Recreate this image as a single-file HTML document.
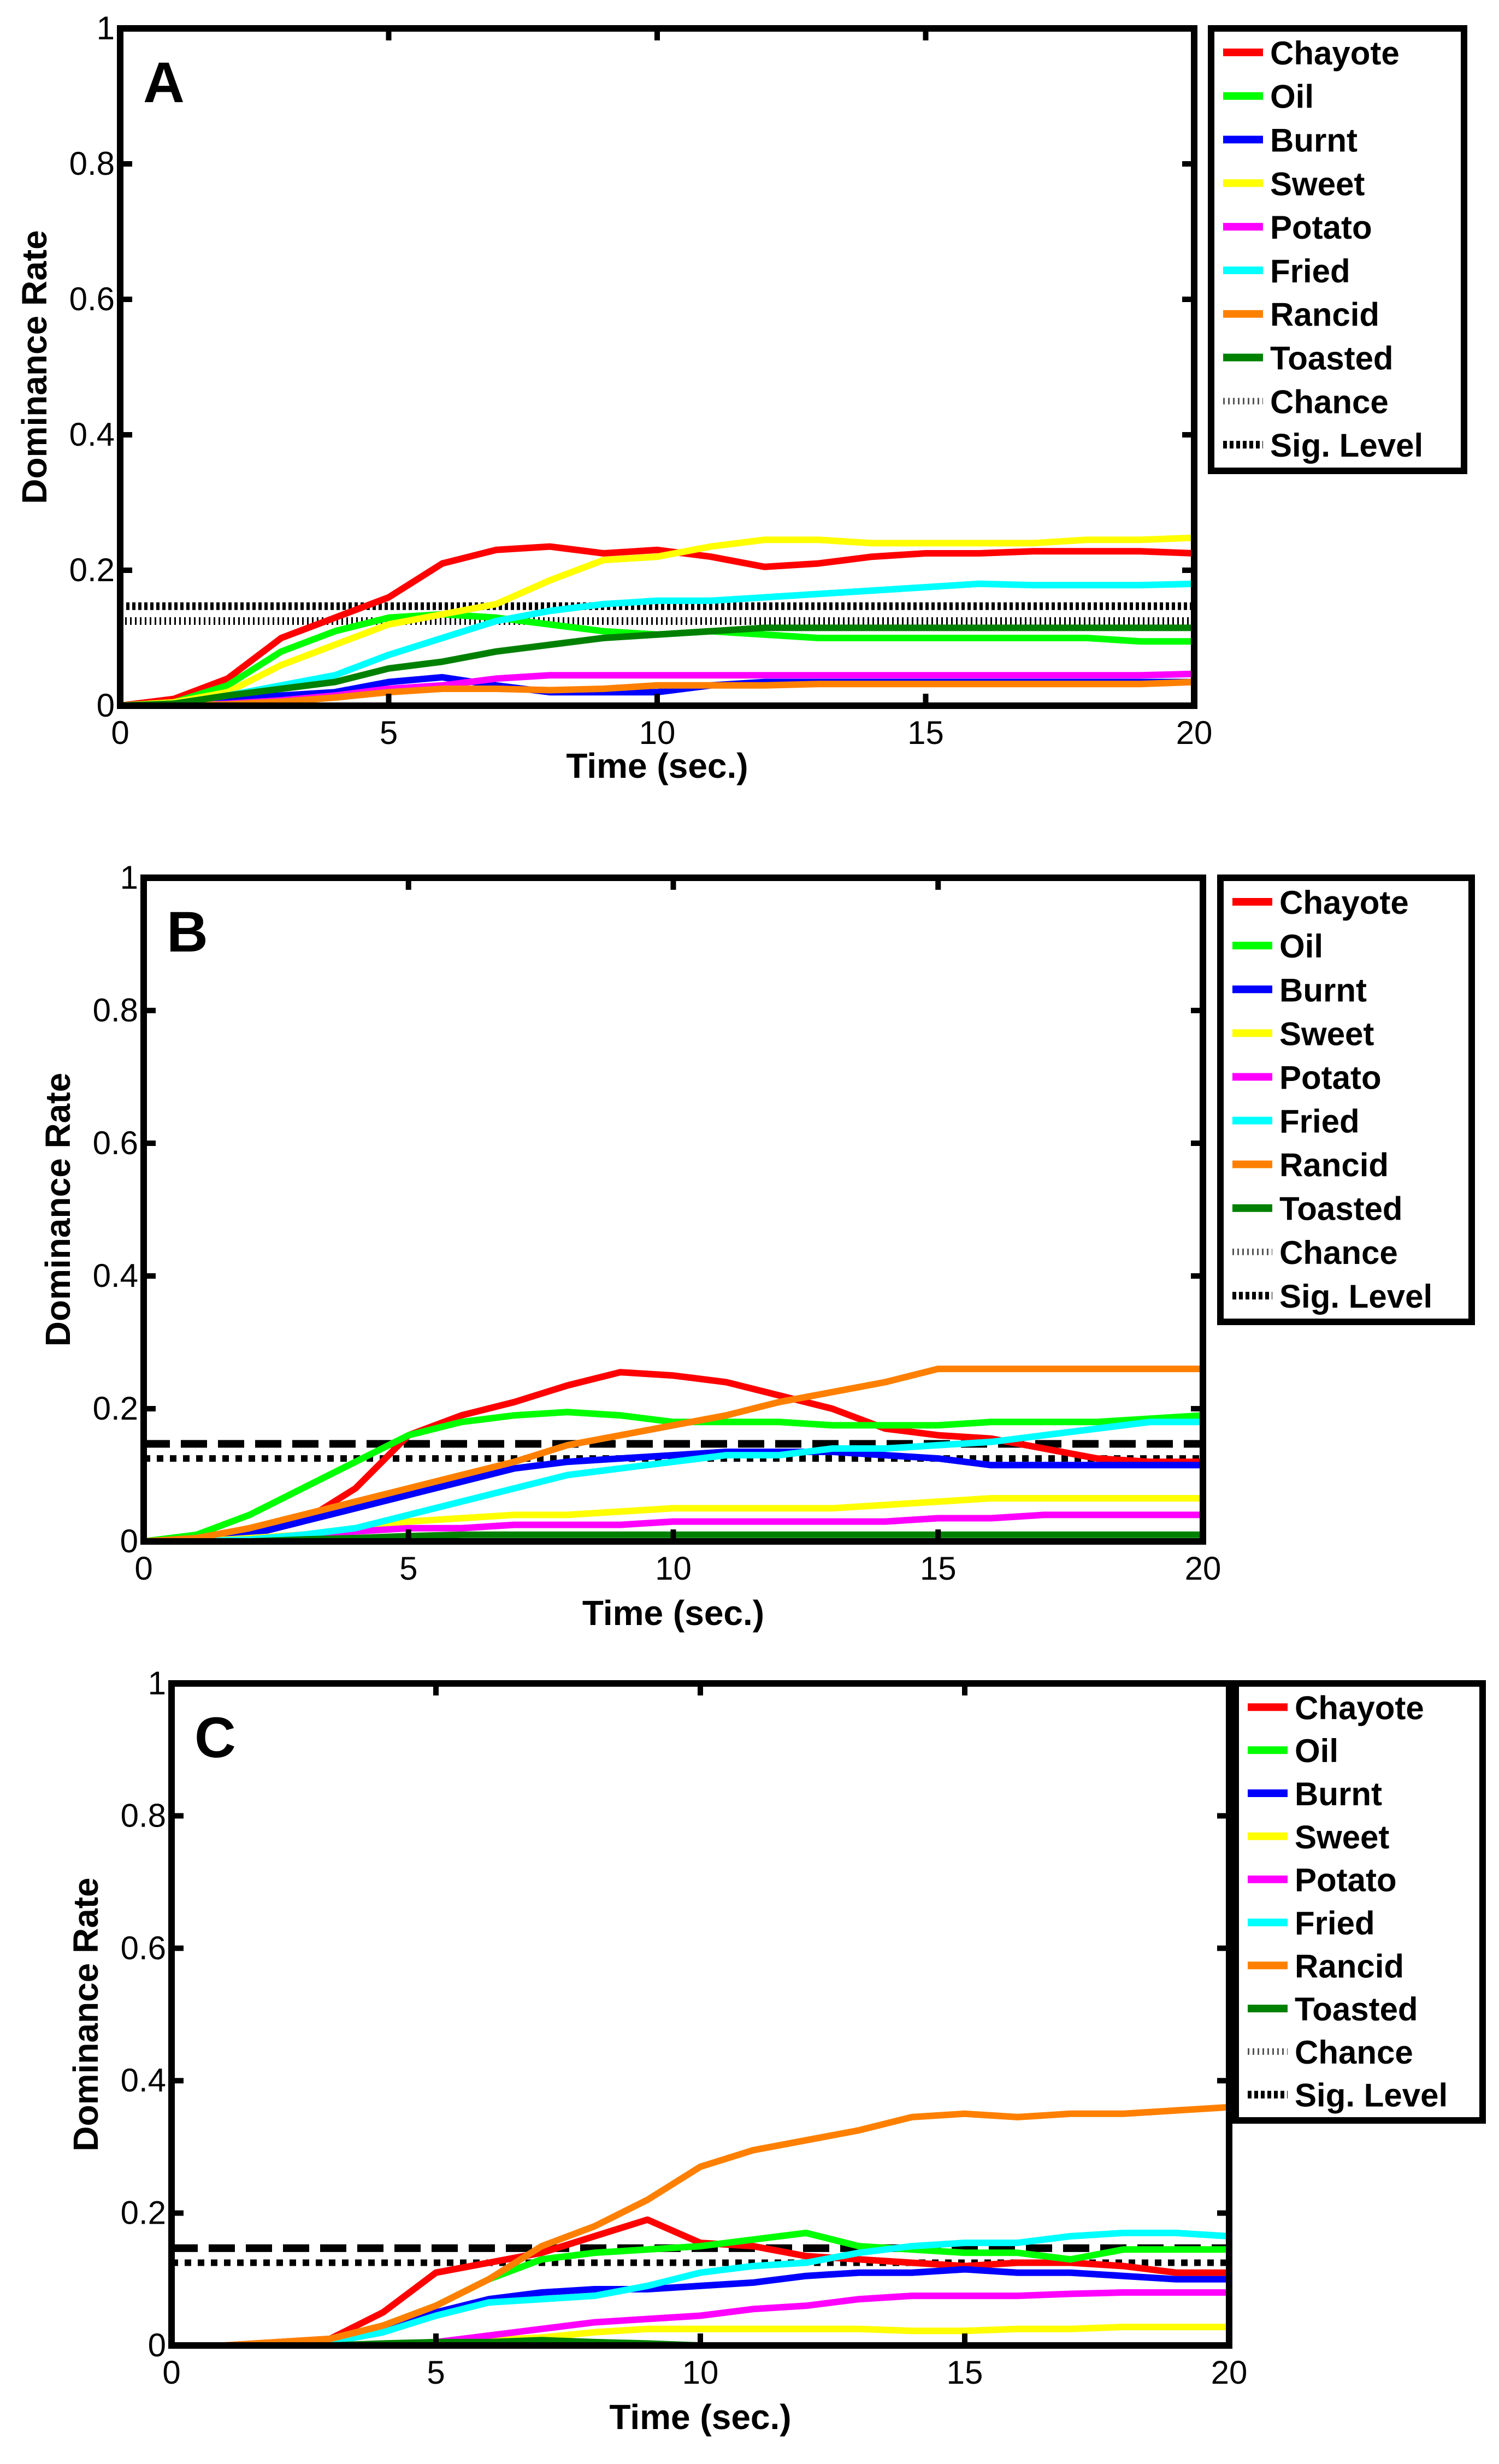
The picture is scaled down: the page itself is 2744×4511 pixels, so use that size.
<!DOCTYPE html>
<html><head><meta charset="utf-8"><style>
html,body{margin:0;padding:0;background:#fff;}
svg{display:block;}
text{font-family:"Liberation Sans",sans-serif;}
</style></head><body>
<svg id="chart" xmlns="http://www.w3.org/2000/svg" width="2744" height="4511" viewBox="0 0 2744 4511"></svg>
<script>
const times = [0,1,2,3,4,5,6,7,8,9,10,11,12,13,14,15,16,17,18,19,20];
const seriesNames = ["Chayote","Oil","Burnt","Sweet","Potato","Fried","Rancid","Toasted"];
const seriesColors = ["#ff0000","#00ff00","#0000ff","#ffff00","#ff00ff","#00ffff","#ff8000","#008000"];
const xTicks = [0,5,10,15,20];
const yTicks = [0,0.2,0.4,0.6,0.8,1];
const yTickLabels = ["0","0.2","0.4","0.6","0.8","1"];
const chanceLevel = 0.125;
const sigLevel = 0.147;

const aChayote = [0,0.01,0.04,0.1,0.13,0.16,0.21,0.23,0.235,0.225,0.23,0.22,0.205,0.21,0.22,0.225,0.225,0.228,0.228,0.228,0.225];
const aOil = [0,0.005,0.03,0.08,0.11,0.13,0.135,0.13,0.12,0.11,0.105,0.11,0.105,0.1,0.1,0.1,0.1,0.1,0.1,0.095,0.095];
const aBurnt = [0,0.003,0.01,0.015,0.02,0.035,0.042,0.03,0.02,0.02,0.02,0.03,0.035,0.035,0.035,0.035,0.035,0.035,0.035,0.035,0.035];
const aSweet = [0,0.005,0.02,0.06,0.09,0.12,0.135,0.15,0.185,0.215,0.22,0.235,0.245,0.245,0.24,0.24,0.24,0.24,0.245,0.245,0.248];
const aPotato = [0,0,0.003,0.008,0.015,0.025,0.03,0.04,0.045,0.045,0.045,0.045,0.045,0.045,0.045,0.045,0.045,0.045,0.045,0.045,0.047];
const aFried = [0,0.003,0.015,0.03,0.045,0.075,0.1,0.125,0.14,0.15,0.155,0.155,0.16,0.165,0.17,0.175,0.18,0.178,0.178,0.178,0.18];
const aRancid = [0,0,0.002,0.006,0.012,0.02,0.025,0.025,0.023,0.025,0.03,0.03,0.03,0.032,0.032,0.032,0.032,0.032,0.032,0.032,0.035];
const aToasted = [0,0.003,0.015,0.025,0.035,0.055,0.065,0.08,0.09,0.1,0.105,0.11,0.115,0.115,0.115,0.115,0.115,0.115,0.115,0.115,0.115];

const bChayote = [0,0,0.01,0.03,0.08,0.16,0.19,0.21,0.235,0.255,0.25,0.24,0.22,0.2,0.17,0.16,0.155,0.14,0.125,0.12,0.12];
const bOil = [0,0.01,0.04,0.08,0.12,0.16,0.18,0.19,0.195,0.19,0.18,0.18,0.18,0.175,0.175,0.175,0.18,0.18,0.18,0.185,0.19];
const bBurnt = [0,0.003,0.01,0.03,0.05,0.07,0.09,0.11,0.12,0.125,0.13,0.135,0.135,0.135,0.13,0.125,0.115,0.115,0.115,0.115,0.115];
const bSweet = [0,0,0.005,0.01,0.02,0.03,0.035,0.04,0.04,0.045,0.05,0.05,0.05,0.05,0.055,0.06,0.065,0.065,0.065,0.065,0.065];
const bPotato = [0,0,0.003,0.01,0.015,0.02,0.02,0.025,0.025,0.025,0.03,0.03,0.03,0.03,0.03,0.035,0.035,0.04,0.04,0.04,0.04];
const bFried = [0,0,0.003,0.01,0.02,0.04,0.06,0.08,0.1,0.11,0.12,0.13,0.13,0.14,0.14,0.145,0.15,0.16,0.17,0.18,0.18];
const bRancid = [0,0.005,0.02,0.04,0.06,0.08,0.1,0.12,0.145,0.16,0.175,0.19,0.21,0.225,0.24,0.26,0.26,0.26,0.26,0.26,0.26];
const bToasted = [0,0,0,0.003,0.005,0.008,0.01,0.01,0.01,0.01,0.01,0.01,0.01,0.01,0.01,0.01,0.01,0.01,0.01,0.01,0.01];

const cChayote = [0,0,0.005,0.01,0.05,0.11,0.125,0.14,0.165,0.19,0.155,0.15,0.135,0.13,0.125,0.12,0.125,0.125,0.12,0.11,0.11];
const cOil = [0,0,0.003,0.01,0.03,0.06,0.1,0.13,0.14,0.145,0.15,0.16,0.17,0.15,0.145,0.14,0.14,0.13,0.145,0.145,0.145];
const cBurnt = [0,0,0,0.005,0.02,0.05,0.07,0.08,0.085,0.085,0.09,0.095,0.105,0.11,0.11,0.115,0.11,0.11,0.105,0.1,0.1];
const cSweet = [0,0,0,0,0.002,0.005,0.008,0.012,0.02,0.025,0.025,0.025,0.025,0.025,0.022,0.022,0.025,0.025,0.028,0.028,0.028];
const cPotato = [0,0,0,0,0.002,0.005,0.015,0.025,0.035,0.04,0.045,0.055,0.06,0.07,0.075,0.075,0.075,0.078,0.08,0.08,0.08];
const cFried = [0,0,0,0.005,0.02,0.045,0.065,0.07,0.075,0.09,0.11,0.12,0.125,0.14,0.15,0.155,0.155,0.165,0.17,0.17,0.165];
const cRancid = [0,0,0.005,0.01,0.03,0.06,0.1,0.15,0.18,0.22,0.27,0.295,0.31,0.325,0.345,0.35,0.345,0.35,0.35,0.355,0.36];
const cToasted = [0,0,0,0,0.003,0.005,0.005,0.008,0.005,0.003,0,0,0,0,0,0,0,0,0,0,0];

const panelLabels = ["A","B","C"];
const panelSeries = [
  [aChayote,aOil,aBurnt,aSweet,aPotato,aFried,aRancid,aToasted],
  [bChayote,bOil,bBurnt,bSweet,bPotato,bFried,bRancid,bToasted],
  [cChayote,cOil,cBurnt,cSweet,cPotato,cFried,cRancid,cToasted]
];

const layouts = [
  {x0:220,x1:2186,y0:52,y1:1292,lx0:2217,lx1:2680,ly0:52,ly1:862,xlab:1424,sigStyle:"dot"},
  {x0:263,x1:2202,y0:1607,y1:2822,lx0:2234,lx1:2694,ly0:1607,ly1:2420,xlab:2975,sigStyle:"dash"},
  {x0:314,x1:2250,y0:3082,y1:4294,lx0:2262,lx1:2714,ly0:3082,ly1:3882,xlab:4447,sigStyle:"dash"}
];

const NS="http://www.w3.org/2000/svg";
const svg=document.getElementById('chart');
function mk(tag,attrs,parent){const e=document.createElementNS(NS,tag);for(const k in attrs)e.setAttribute(k,attrs[k]);(parent||svg).appendChild(e);return e;}

panelLabels.forEach((lab,pi)=>{
  const L=layouts[pi];
  const g=mk('g',{});
  
  
  const sx=v=>L.x0+(v-0)/(20-0)*(L.x1-L.x0);
  const sy=v=>L.y1-(v-0)/(1-0)*(L.y1-L.y0);

  const ch=mk('line',{x1:L.x0,x2:L.x1,y1:sy(chanceLevel),y2:sy(chanceLevel),stroke:'#000','stroke-width':pi===0?14:12,'stroke-dasharray':pi===0?'3 6':'12 12'},g);
  
  
  const sg=mk('line',{x1:L.x0,x2:L.x1,y1:sy(sigLevel),y2:sy(sigLevel),stroke:'#000','stroke-width':14,'stroke-dasharray':L.sigStyle==='dot'?'6 5':'48 20'},g);
  
  

  panelSeries[pi].forEach((vals,si)=>{
    const d=vals.map((v,i)=>(i?'L':'M')+sx(times[i]).toFixed(1)+' '+sy(v).toFixed(1)).join(' ');
    const p=mk('path',{d:d,fill:'none',stroke:seriesColors[si],'stroke-width':12,'stroke-linejoin':'round','stroke-linecap':'round'},g);
    
    
  });

  const box=mk('rect',{x:L.x0,y:L.y0,width:L.x1-L.x0,height:L.y1-L.y0,fill:'none',stroke:'#000','stroke-width':12},g);
  
  

  xTicks.forEach(t=>{
    const x=sx(t);
    mk('line',{x1:x,x2:x,y1:L.y1,y2:L.y1-22,stroke:'#000','stroke-width':10},g);
    mk('line',{x1:x,x2:x,y1:L.y0,y2:L.y0+22,stroke:'#000','stroke-width':10},g);
    const tx=mk('text',{x:x,y:L.y1+70,'font-size':60,'text-anchor':'middle',fill:'#000'},g);
    tx.textContent=String(t);
    
    
  });
  yTicks.forEach((t,i)=>{
    const y=sy(t);
    mk('line',{x1:L.x0,x2:L.x0+22,y1:y,y2:y,stroke:'#000','stroke-width':10},g);
    mk('line',{x1:L.x1,x2:L.x1-22,y1:y,y2:y,stroke:'#000','stroke-width':10},g);
    const ty=mk('text',{x:L.x0-10,y:y+20,'font-size':60,'text-anchor':'end',fill:'#000'},g);
    ty.textContent=yTickLabels[i];
    
    
  });

  const pl=mk('text',{x:L.x0+42,y:L.y0+135,'font-size':105,'font-weight':'bold',fill:'#000'},g);
  pl.textContent=lab;
  
  

  const xt=mk('text',{x:(L.x0+L.x1)/2,y:L.xlab,'font-size':64,'font-weight':'bold','text-anchor':'middle',fill:'#000'},g);
  xt.textContent='Time (sec.)';
  
  
  const cy=(L.y0+L.y1)/2;
  const yt=mk('text',{x:L.x0-135,y:cy,'font-size':64,'font-weight':'bold','text-anchor':'middle',fill:'#000',transform:`rotate(-90 ${L.x0-135} ${cy})`},g);
  yt.textContent='Dominance Rate';
  
  

  const lg=mk('g',{},g);
  
  
  mk('rect',{x:L.lx0,y:L.ly0,width:L.lx1-L.lx0,height:L.ly1-L.ly0,fill:'#fff',stroke:'#000','stroke-width':12},lg);
  const step=(L.ly1-L.ly0)/10.15;
  const allNames=seriesNames.concat(['Chance','Sig. Level']);
  allNames.forEach((n,i)=>{
    const y=L.ly0+step*(i+0.55);
    const e=mk('g',{},lg);
    
    
    let st;
    if(i<8) st={stroke:seriesColors[i],'stroke-width':14};
    else if(i===8) st={stroke:'#555','stroke-width':12,'stroke-dasharray':'3 6'};
    else st={stroke:'#000','stroke-width':14,'stroke-dasharray':'7 5'};
    mk('line',Object.assign({x1:L.lx0+22,x2:L.lx0+95,y1:y,y2:y},st),e);
    const t=mk('text',{x:L.lx0+108,y:y+22,'font-size':60,'font-weight':'bold',fill:'#000'},e);
    t.textContent=n;
  });
});
</script>
</body></html>
